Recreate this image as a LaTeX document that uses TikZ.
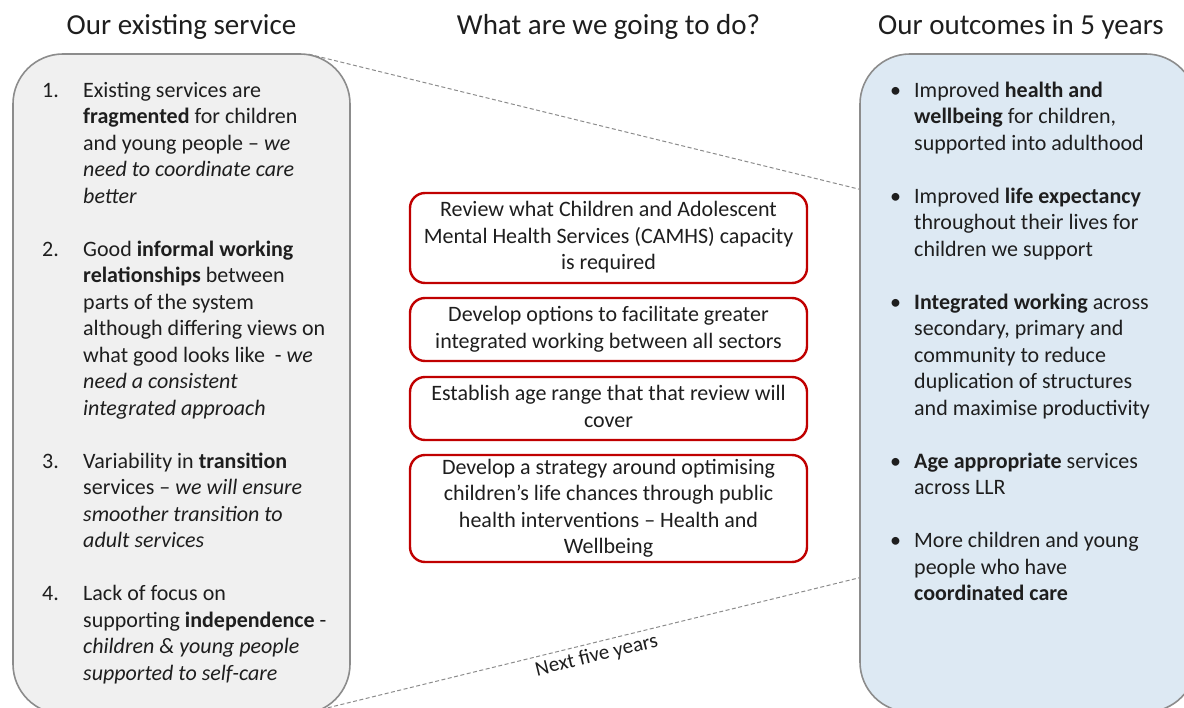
\documentclass[tikz,border=0pt]{standalone}
\usepackage{fontspec}
\setmainfont{Carlito}
\usepackage{array}
\usepackage{tikz}
\usetikzlibrary{calc}
\definecolor{panelgrey}{HTML}{F0F0F0}
\definecolor{panelblue}{HTML}{DDE9F3}
\definecolor{edgegrey}{HTML}{8C8C8C}
\definecolor{taskred}{HTML}{C00000}
\definecolor{inkgrey}{HTML}{1E1E1E}

\begin{document}
\begin{tikzpicture}[
  x=1pt, y=-1pt,
  title/.style={font=\fontsize{29}{34}\selectfont, text=inkgrey},
  body/.style={font=\fontsize{22}{26.5}\selectfont, text=inkgrey, inner sep=0pt},
  panel/.style={draw=edgegrey, line width=1.6pt, rounded corners=50pt,
                minimum width=337pt},
  task/.style={draw=taskred, line width=2.4pt, rounded corners=15pt, fill=white,
               minimum width=397pt, inner sep=0pt,
               font=\fontsize{22}{26.5}\selectfont, text=inkgrey},
  span/.style={draw=edgegrey, line width=1pt, dash pattern=on 4pt off 2.5pt}]

  \useasboundingbox (0,0) rectangle (1184,708);

  % Column headings
  \node[title] (headL) at (181.5,27) {Our existing service};
  \node[title] (headM) at (608.5,27) {What are we going to do?};
  \node[title] (headR) at (1021,27)  {Our outcomes in 5 years};

  % Side panels
  \node[panel, fill=panelgrey, minimum height=660pt] (existing) at (181.5,384) {};
  \node[panel, fill=panelblue, minimum width=336pt, minimum height=658pt]
    (outcomes) at (1028,383) {};

  % Next five years
  \draw[span] ($(existing.north east)+(-42,1)$) -- ($(outcomes.north west)+(0,136)$);
  \draw[span] ($(existing.south east)+(-23,-7)$)
    -- node[sloped,below,pos=0.5,inner sep=4pt,font=\fontsize{21}{24}\selectfont,text=inkgrey]
       {Next five years} ($(outcomes.south west)+(0,-135)$);

  % Existing service
  \node[body, anchor=north west] (issues) at (42,78.4) {%
    \begin{tabular}{@{}p{41pt}@{}l@{}}
    1. & Existing services are\\
       & \textbf{fragmented} for children\\
       & and young people -- \textit{we}\\
       & \textit{need to coordinate care}\\
       & \textit{better}\\
       & \\
    2. & Good \textbf{informal working}\\
       & \textbf{relationships} between\\
       & parts of the system\\
       & although differing views on\\
       & what good looks like \ - \textit{we}\\
       & \textit{need a consistent}\\
       & \textit{integrated approach}\\
       & \\
    3. & Variability in \textbf{transition}\\
       & services -- \textit{we will ensure}\\
       & \textit{smoother transition to}\\
       & \textit{adult services}\\
       & \\
    4. & Lack of focus on\\
       & supporting \textbf{independence} -\\
       & \textit{children \& young people}\\
       & \textit{supported to self-care}
    \end{tabular}};

  % What we will do
  \node[task, minimum height=90pt] (review) at (608.5,238) {%
    \begin{tabular}{@{}c@{}}
    Review what Children and Adolescent\\
    Mental Health Services (CAMHS) capacity\\
    is required
    \end{tabular}};
  \node[task, minimum height=63pt] (options) at (608.5,329.5) {%
    \begin{tabular}{@{}c@{}}
    Develop options to facilitate greater\\
    integrated working between all sectors
    \end{tabular}};
  \node[task, minimum height=63pt] (agerange) at (608.5,408.5) {%
    \begin{tabular}{@{}c@{}}
    Establish age range that that review will\\
    cover
    \end{tabular}};
  \node[task, minimum height=107pt] (strategy) at (608.5,508.5) {%
    \begin{tabular}{@{}c@{}}
    Develop a strategy around optimising\\
    children's life chances through public\\
    health interventions -- Health and\\
    Wellbeing
    \end{tabular}};

  % Outcomes
  \node[body, anchor=north west] (gains) at (890,78.4) {%
    \begin{tabular}{@{}p{24pt}@{}l@{}}
    \textbullet & Improved \textbf{health and}\\
                & \textbf{wellbeing} for children,\\
                & supported into adulthood\\
                & \\
    \textbullet & Improved \textbf{life expectancy}\\
                & throughout their lives for\\
                & children we support\\
                & \\
    \textbullet & \textbf{Integrated working} across\\
                & secondary, primary and\\
                & community to reduce\\
                & duplication of structures\\
                & and maximise productivity\\
                & \\
    \textbullet & \textbf{Age appropriate} services\\
                & across LLR\\
                & \\
    \textbullet & More children and young\\
                & people who have\\
                & \textbf{coordinated care}
    \end{tabular}};
\end{tikzpicture}
\end{document}
